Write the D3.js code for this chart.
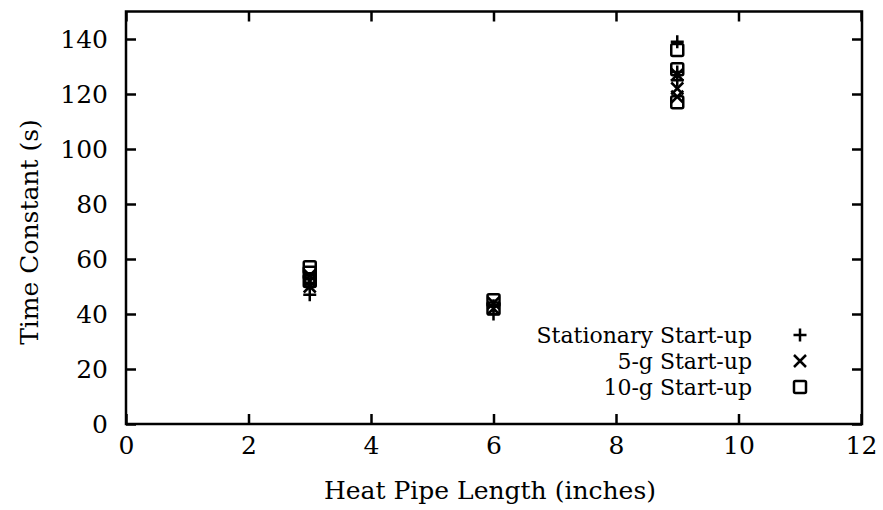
<!DOCTYPE html>
<html><head><meta charset="utf-8">
<script src="https://cdn.jsdelivr.net/npm/d3@7"></script>
<style>body{margin:0;background:#fff}svg{display:block}</style>
</head><body>
<script>
const xTicks = [0,2,4,6,8,10,12];
const yTicks = [0,20,40,60,80,100,120,140];
const seriesNames = ["Stationary Start-up","5-g Start-up","10-g Start-up"];
const stationaryX = [3,3,6,6,9,9,9];
const stationaryY = [47,51,40,43,139,128,125];
const fiveGX = [3,3,3,6,6,9,9,9];
const fiveGY = [54,52,50,42,44,127,122,119];
const tenGX = [3,3,3,6,6,9,9,9];
const tenGY = [57,55,52,45,42,136,129,117];

const W=883,H=510;
const svg=d3.select("body").append("svg").attr("width",W).attr("height",H);
const font="'DejaVu Serif','Liberation Serif',serif";
const FS=25;
const x=d3.scaleLinear().domain([0,12]).range([126,861]);
const y=d3.scaleLinear().domain([0,150]).range([424,11.5]);
const L=126,R=862,T=11.5,B=424;

svg.append("rect").attr("x",L).attr("y",T).attr("width",R-L).attr("height",B-T)
  .attr("fill","none").attr("stroke","#000").attr("stroke-width",2.5);
const gB=svg.append("g").attr("transform",`translate(0,${B})`)
  .call(d3.axisBottom(x).tickValues(xTicks).tickSizeInner(-10).tickSizeOuter(0).tickPadding(12));
const gT=svg.append("g").attr("transform",`translate(0,${T})`)
  .call(d3.axisTop(x).tickValues(xTicks).tickSizeInner(-10).tickSizeOuter(0).tickFormat(""));
const gL=svg.append("g").attr("transform",`translate(${L},0)`)
  .call(d3.axisLeft(y).tickValues(yTicks).tickSizeInner(-10).tickSizeOuter(0).tickPadding(18));
const gR=svg.append("g").attr("transform",`translate(${R},0)`)
  .call(d3.axisRight(y).tickValues(yTicks).tickSizeInner(-10).tickSizeOuter(0).tickFormat(""));
[gB,gT,gL,gR].forEach(g=>{
  g.attr("font-family",font).attr("font-size",FS);
  g.select(".domain").remove();
  g.selectAll("line").attr("stroke","#000").attr("stroke-width",2.5);
  g.selectAll("text").attr("font-family",font).attr("font-size",FS).attr("fill","#000");
});
gB.selectAll("text").attr("dy","0.71em");

svg.append("text").attr("x",490).attr("y",499).attr("text-anchor","middle")
  .attr("font-family",font).attr("font-size",FS).text("Heat Pipe Length (inches)");
svg.append("text").attr("transform","translate(38,232) rotate(-90)").attr("text-anchor","middle")
  .attr("font-family",font).attr("font-size",FS).text("Time Constant (s)");

const s=6.5;
function plus(g,cx,cy){g.append("path").attr("d",`M${cx-s},${cy}H${cx+s}M${cx},${cy-s}V${cy+s}`)
  .attr("stroke","#000").attr("stroke-width",2.5).attr("fill","none");}
function cross(g,cx,cy){const k=6;g.append("path").attr("d",`M${cx-k},${cy-k}L${cx+k},${cy+k}M${cx-k},${cy+k}L${cx+k},${cy-k}`)
  .attr("stroke","#000").attr("stroke-width",2.5).attr("fill","none");}
function square(g,cx,cy){const k=6;g.append("rect").attr("x",cx-k).attr("y",cy-k).attr("width",2*k).attr("height",2*k).attr("rx",1.5)
  .attr("stroke","#000").attr("stroke-width",2.5).attr("fill","none");}
const pts=svg.append("g");
stationaryX.forEach((v,i)=>plus(pts,x(v),y(stationaryY[i])));
fiveGX.forEach((v,i)=>cross(pts,x(v),y(fiveGY[i])));
tenGX.forEach((v,i)=>square(pts,x(v),y(tenGY[i])));

const fns=[plus,cross,square];
seriesNames.forEach((n,i)=>{
  const yy=335+i*26;
  svg.append("text").attr("x",752).attr("y",yy+8).attr("text-anchor","end")
    .attr("font-family",font).attr("font-size",22).text(n);
  fns[i](svg,800,yy);
});
</script>
</body></html>
